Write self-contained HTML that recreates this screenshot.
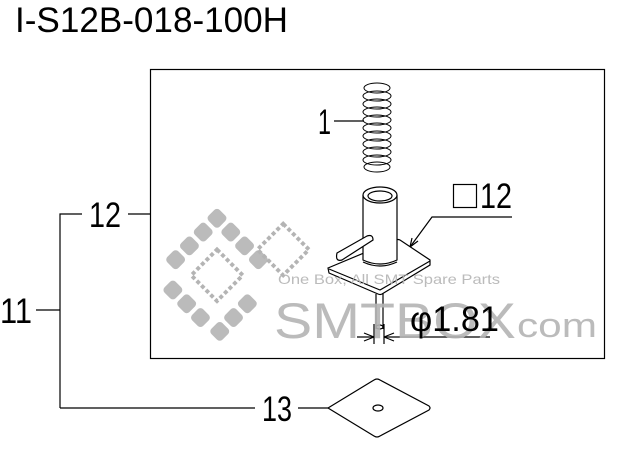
<!DOCTYPE html>
<html><head><meta charset="utf-8"><style>
html,body{margin:0;padding:0;background:#fff;width:640px;height:452px;overflow:hidden}
svg text{font-family:"Liberation Sans",sans-serif}
</style></head><body>
<svg width="640" height="452" viewBox="0 0 640 452" xmlns="http://www.w3.org/2000/svg">
<rect width="640" height="452" fill="#fff"/>
<text x="15" y="32" font-size="35" textLength="273" lengthAdjust="spacingAndGlyphs" fill="#000">I-S12B-018-100H</text>
<rect x="150.5" y="69.5" width="454" height="289" fill="none" stroke="#000" stroke-width="1.2"/>
<g stroke="#000" stroke-width="1.2" fill="none">
<path d="M60 408 V214 H82 M128 214 H150 M36 310 H60 M60 408 H255 M298 408 H328"/>
<path d="M328 408 L374 380 Q377 378 380 380 L429 406 Q431 408 429 410 L380 436 Q377 438 374 436 Z"/>
<ellipse cx="378" cy="408" rx="5" ry="3"/>
<path d="M334 121 H364"/>
<g stroke-width="1">
<ellipse cx="377" cy="88" rx="13" ry="5"/>
<ellipse cx="377" cy="96" rx="14" ry="5"/><ellipse cx="377" cy="104" rx="14" ry="5"/><ellipse cx="377" cy="112" rx="14" ry="5"/><ellipse cx="377" cy="120" rx="14" ry="5"/><ellipse cx="377" cy="128" rx="14" ry="5"/><ellipse cx="377" cy="136" rx="14" ry="5"/><ellipse cx="377" cy="144" rx="14" ry="5"/><ellipse cx="377" cy="152" rx="14" ry="5"/><ellipse cx="377" cy="160" rx="14" ry="5"/><ellipse cx="377" cy="167" rx="13" ry="5"/>
</g>
<path d="M328 268 L395 240 Q398 239 400 240 L430 260 L430 265 L382 294 Q380 295 378 294 L329 273 Z" fill="#fff"/>
<path d="M329 269 L380 290 L430 261"/>
<path d="M376 294 V329 M383 293 V329"/>
<ellipse cx="379.5" cy="327" rx="3.5" ry="2"/>
<path d="M363 195 V260 Q380 268 397 260 V195" fill="#fff"/>
<ellipse cx="380" cy="195" rx="17" ry="8" fill="#fff"/>
<ellipse cx="380" cy="196" rx="12" ry="5"/>
<path d="M363 262 Q380 270 397 262"/>
<path d="M337 253 L367 236 Q373 234 373 240 L342 260 Q335 262 337 253 Z" fill="#fff"/>
<rect x="453.5" y="184.5" width="23" height="23"/>
<path d="M512 217 H432 L410 247"/>
<path d="M410 247 L412 238 M410 247 L418 241"/>
<path d="M374 324 V344 M384 324 V344 M357 337 H374 M384 337 H490"/>
<path d="M374 337 L364 333 M374 337 L364 341 M384 337 L394 333 M384 337 L394 341"/>
</g>
<g fill="#b4b4b4" fill-opacity="0.9">
<g transform="translate(217,290) rotate(45) scale(1.3)">
<rect x="-45" y="-45" width="12" height="12" rx="3"/><rect x="-30" y="-45" width="12" height="12" rx="3"/><rect x="-15" y="-45" width="12" height="12" rx="3"/><rect x="0" y="-45" width="12" height="12" rx="3"/>
<rect x="-45" y="-30" width="12" height="12" rx="3"/><rect x="-45" y="-15" width="12" height="12" rx="3"/><rect x="-45" y="0" width="12" height="12" rx="3"/>
<rect x="18" y="-15" width="12" height="12" rx="3"/><rect x="18" y="0" width="12" height="12" rx="3"/><rect x="18" y="15" width="12" height="12" rx="3"/>
<rect x="-30" y="18" width="12" height="12" rx="3"/><rect x="-15" y="18" width="12" height="12" rx="3"/><rect x="0" y="18" width="12" height="12" rx="3"/>
<rect x="-22" y="-22" width="28" height="28" fill="none" stroke="#b4b4b4" stroke-width="3" stroke-dasharray="3 2"/>
<rect x="0" y="-72" width="28" height="28" fill="none" stroke="#b4b4b4" stroke-width="3" stroke-dasharray="3 2"/>
</g>
<text x="278" y="284" font-size="14" textLength="222" lengthAdjust="spacingAndGlyphs">One Box, All SMT Spare Parts</text>
<text x="274" y="338" font-size="50" textLength="242" lengthAdjust="spacingAndGlyphs">SMTBOX</text>
<text x="517" y="337" font-size="34" textLength="80" lengthAdjust="spacingAndGlyphs">com</text>
</g>
<g fill="#000" font-size="35">
<text x="318" y="134" textLength="13" lengthAdjust="spacingAndGlyphs">1</text>
<text x="89" y="227" textLength="32" lengthAdjust="spacingAndGlyphs">12</text>
<text x="0" y="323" textLength="32" lengthAdjust="spacingAndGlyphs">11</text>
<text x="262" y="421" textLength="30" lengthAdjust="spacingAndGlyphs">13</text>
<text x="480" y="208" textLength="32" lengthAdjust="spacingAndGlyphs">12</text>
<text x="410" y="331" textLength="89" lengthAdjust="spacingAndGlyphs">φ1.81</text>
</g>
</svg>
</body></html>
